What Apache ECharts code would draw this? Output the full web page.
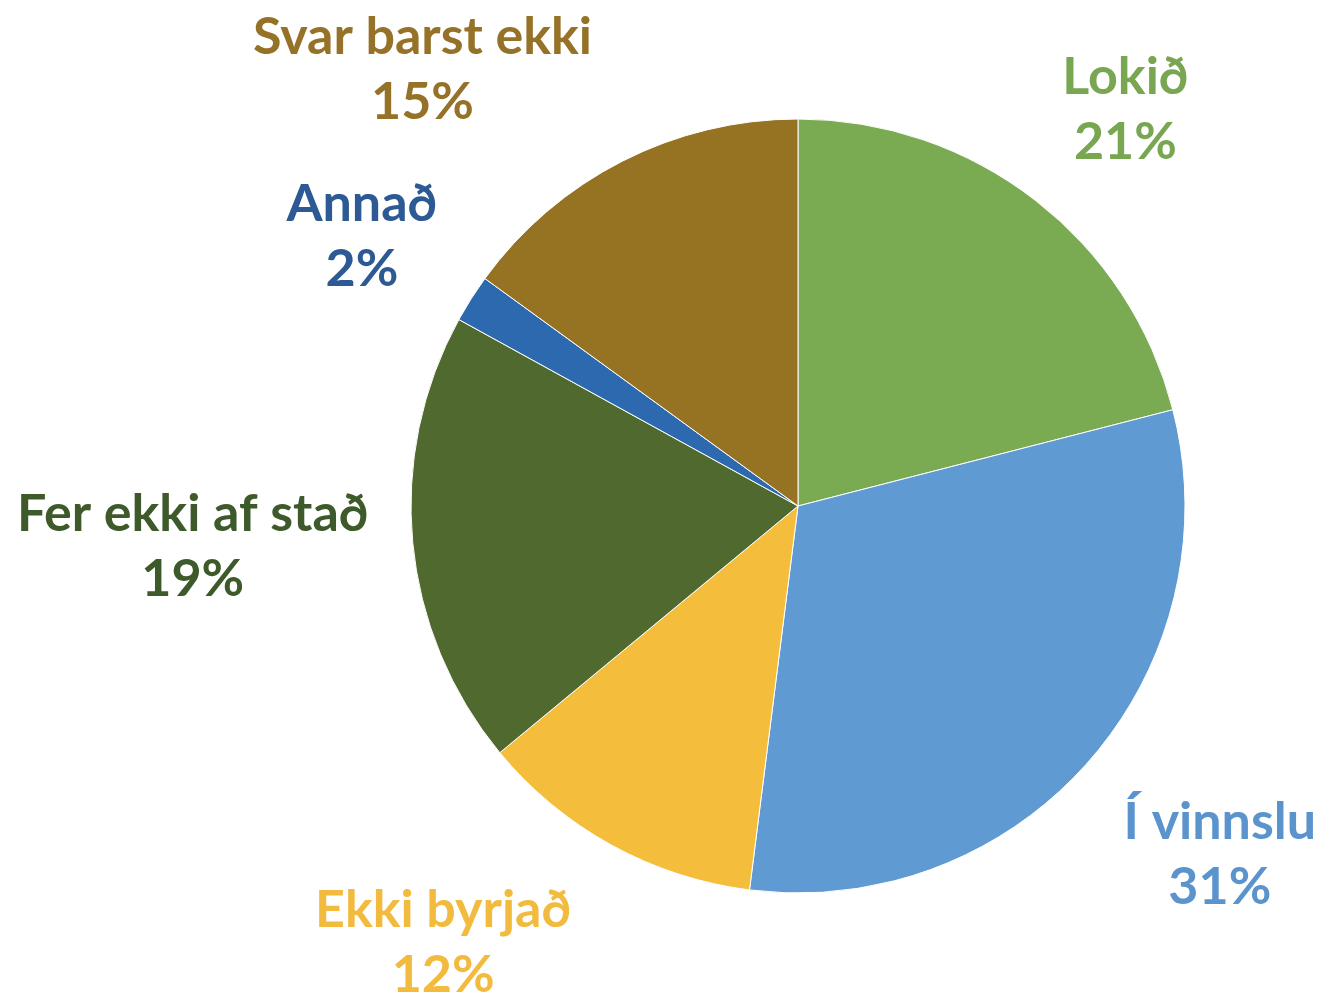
<!DOCTYPE html>
<html>
<head>
<meta charset="utf-8">
<style>
  html, body { margin: 0; padding: 0; background: #fff; }
  #chart { width: 1317px; height: 998px; }
</style>
<script src="https://cdn.jsdelivr.net/npm/echarts@6/dist/echarts.min.js"></script>
</head>
<body>
<div id="chart"></div>
<script>
// gögn
var categories = ["Lokið", "Í vinnslu", "Ekki byrjað", "Fer ekki af stað", "Annað", "Svar barst ekki"];
var values = [21, 31, 12, 19, 2, 15];

var sliceColors = ["#7aab53", "#5f9ad3", "#f5bd3c", "#50692f", "#2d69af", "#967323"];
var labelColors = ["#78a651", "#5b94cc", "#f2bb3e", "#3e5a2b", "#2d5a94", "#967228"];

// label placement: distance from pie centre along slice middle + nudge
var labelDist = [513, 549, 500, 606, 513, 488];
var labelNudgeX = [13, 10, -114, -2, -3, -154];
var labelNudgeY = [9, -14, -1, -16, 6, -1];

var cx = 798, cy = 506, radius = 387;

var total = values.reduce(function (a, b) { return a + b; }, 0);
var midAngles = [];
var acc = 0;
for (var i = 0; i < values.length; i++) {
  midAngles.push((acc + values[i] / 2) / total * Math.PI * 2);
  acc += values[i];
}

var pieData = categories.map(function (name, i) {
  return {
    name: name,
    value: values[i],
    itemStyle: { color: sliceColors[i] },
    label: { color: labelColors[i] }
  };
});

var chart = echarts.init(document.getElementById("chart"));
chart.setOption({
  backgroundColor: "#fff",
  animation: false,
  series: [{
    type: "pie",
    center: [cx, cy],
    radius: radius,
    startAngle: 90,
    clockwise: true,
    data: pieData,
    itemStyle: { borderColor: "#fff", borderWidth: 1 },
    label: {
      show: true,
      position: "outside",
      formatter: "{b}\n{d}%",
      fontFamily: "Lato",
      fontWeight: "bold",
      fontSize: 52,
      lineHeight: 65,
      overflow: "none"
    },
    labelLine: { show: false },
    labelLayout: function (params) {
      var i = params.dataIndex;
      var a = midAngles[i];
      return {
        x: cx + Math.sin(a) * labelDist[i] + labelNudgeX[i],
        y: cy - Math.cos(a) * labelDist[i] + labelNudgeY[i],
        align: "center",
        verticalAlign: "middle"
      };
    }
  }]
});
window.onresize = chart.resize;
</script>
</body>
</html>
